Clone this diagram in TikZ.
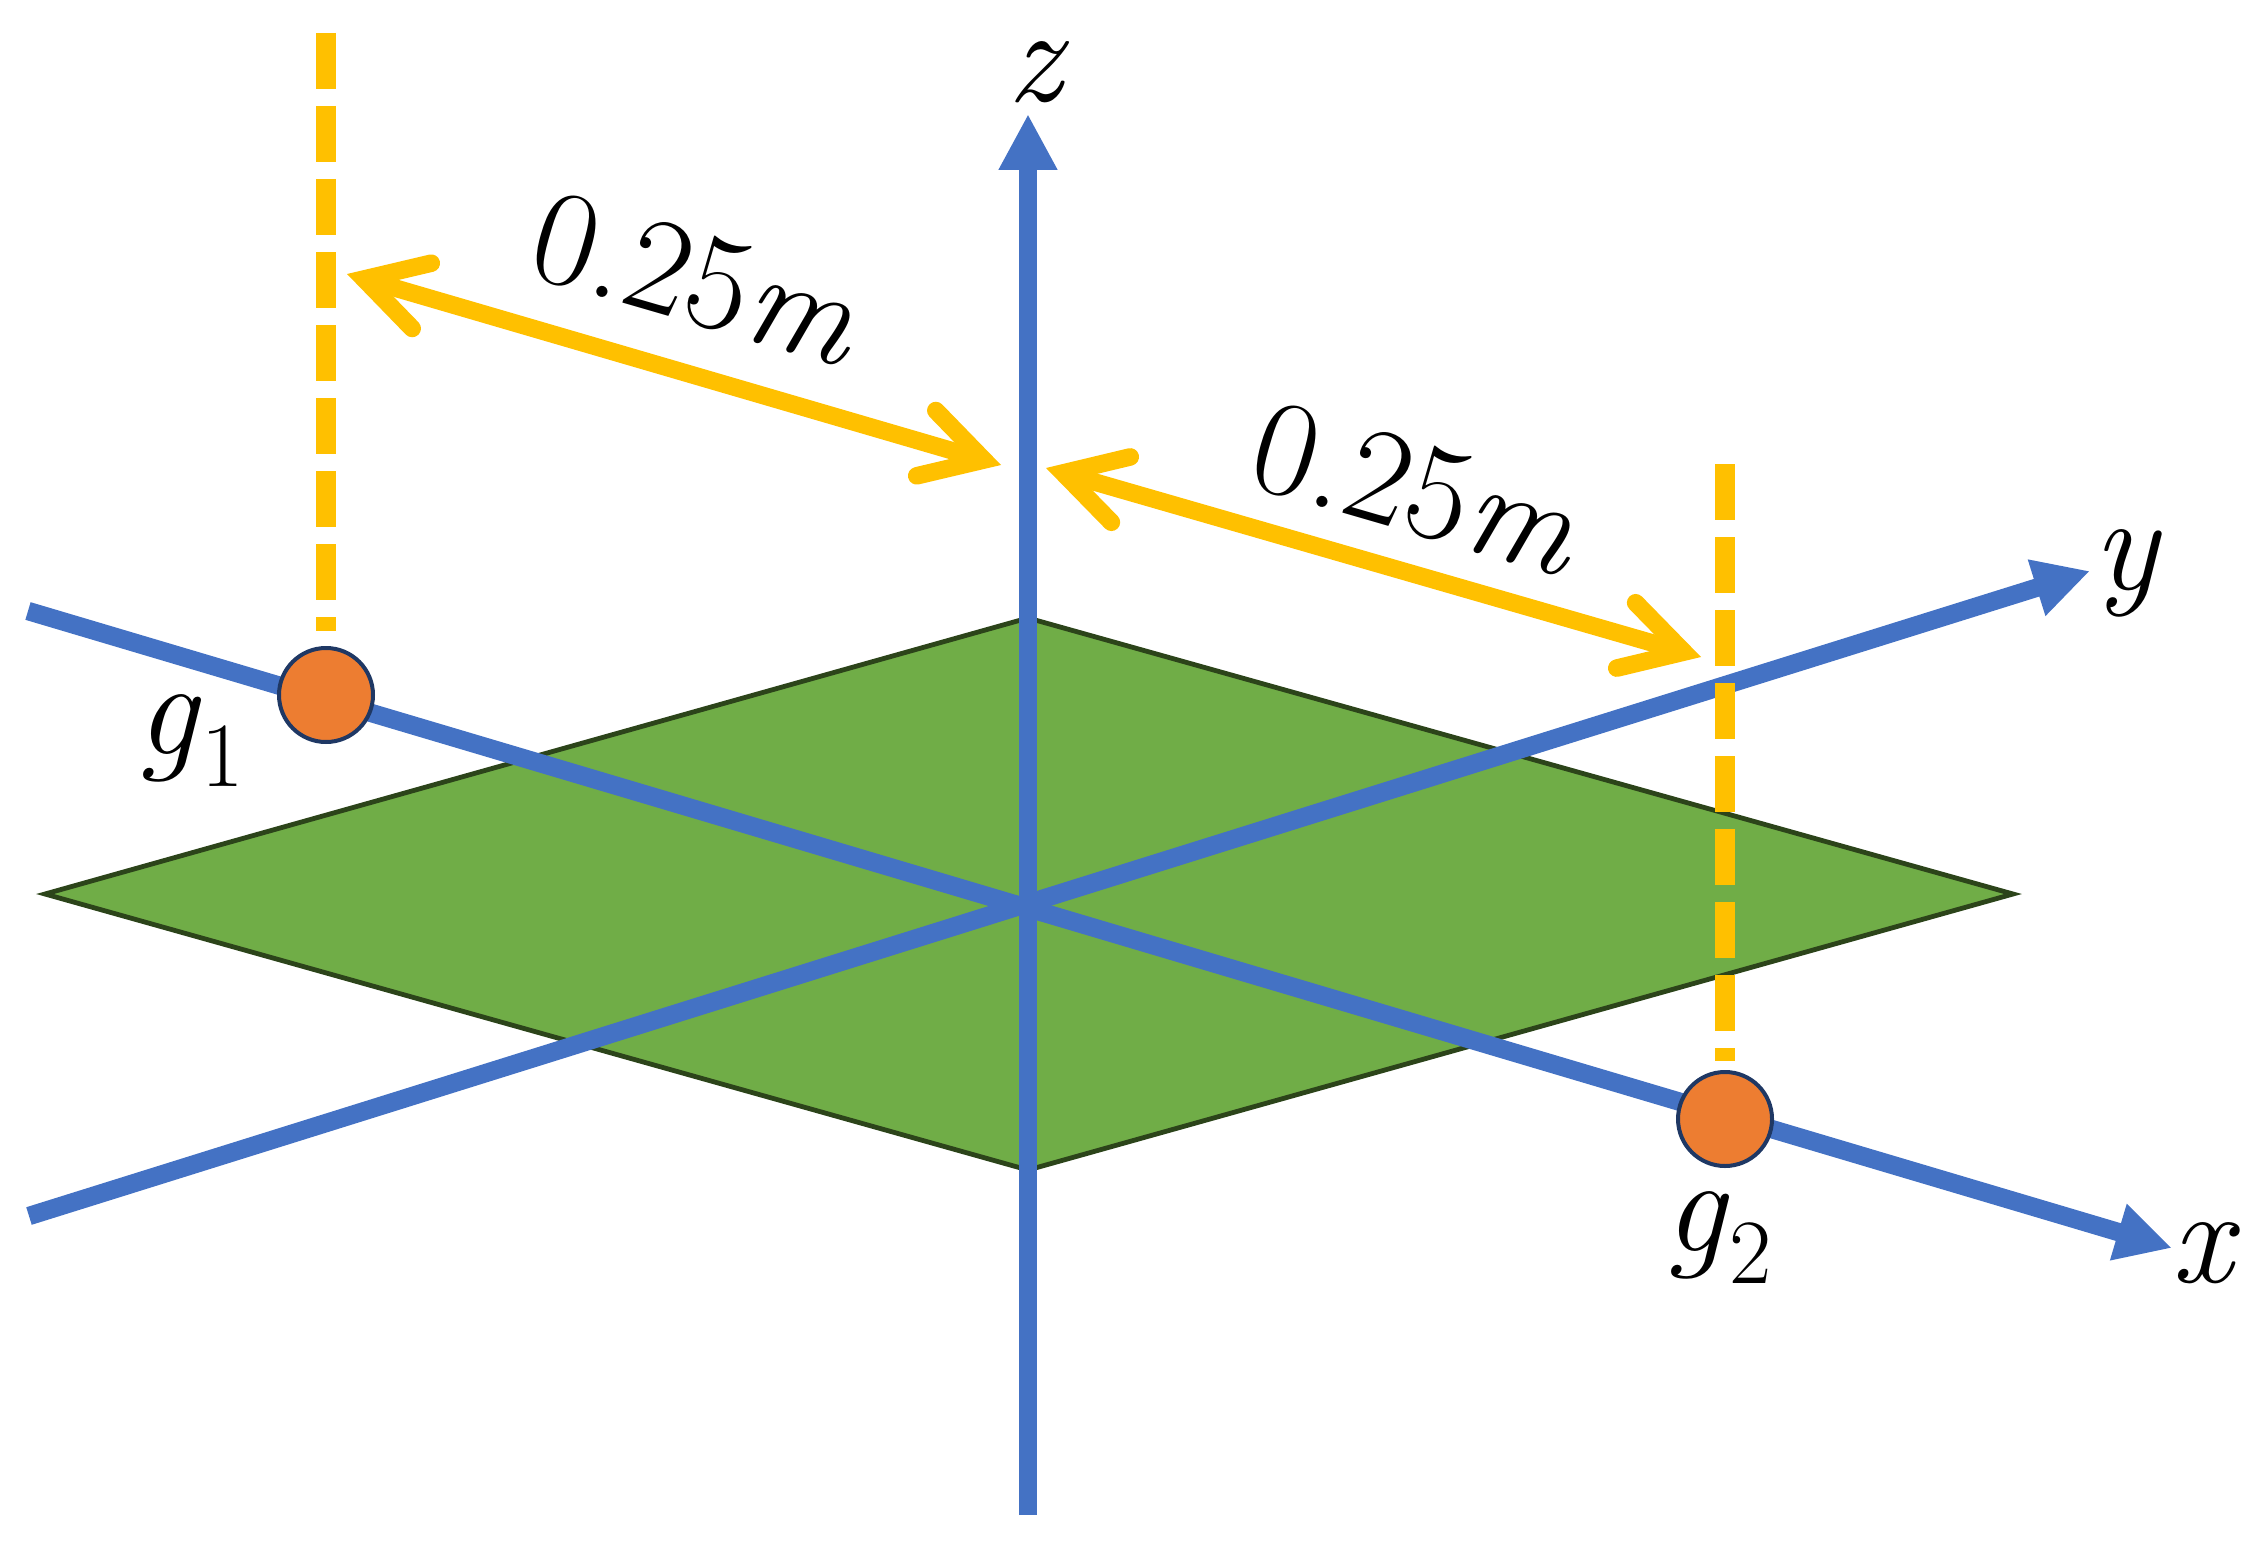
\documentclass[tikz,border=0pt]{standalone}
\usetikzlibrary{arrows.meta}
\definecolor{axblue}{RGB}{68,114,196}
\definecolor{planegreen}{RGB}{112,173,71}
\definecolor{planeedge}{RGB}{44,68,26}
\definecolor{ballorange}{RGB}{237,125,49}
\definecolor{ballnavy}{RGB}{31,56,100}
\definecolor{dimyellow}{RGB}{255,192,0}
\newcommand{\subidx}[1]{\raisebox{-0.24em}{\fontsize{46}{52}\selectfont #1}}
\tikzset{
  axis/.style={draw=axblue, line width=9.2pt, -{Triangle[length=28pt,width=27.5pt]}},
  plane/.style={draw=planeedge, fill=planegreen, line width=2.4pt, line join=miter},
  ball/.style={circle, draw=ballnavy, fill=ballorange, line width=2pt, minimum size=47pt, inner sep=0pt},
  guide/.style={draw=dimyellow, line width=9.75pt, dash pattern=on 28pt off 8.5pt},
  dimarrow/.style={draw=dimyellow, line width=8.8pt, {Straight Barb[length=30pt,width=34pt,line cap=round,line join=miter]}-{Straight Barb[length=30pt,width=34pt,line cap=round,line join=miter]}},
  lbl/.style={font=\fontsize{68}{76}\selectfont, inner sep=0pt}
}
\begin{document}
\begin{tikzpicture}[x=0.5pt,y=-0.5pt]
\useasboundingbox (0,0) rectangle (2262,1546);
% plane
\coordinate (PL) at (45,894);
\coordinate (PT) at (1028,618);
\coordinate (PR) at (2013,894);
\coordinate (PB) at (1028,1170);
\path[plane] (PL) -- (PT) -- (PR) -- (PB) -- cycle;
% axes
\coordinate (xs) at (28,611);
\coordinate (xe) at (2172,1248);
\coordinate (ys) at (29,1216);
\coordinate (ye) at (2090,571);
\coordinate (zs) at (1028,1515);
\coordinate (ze) at (1028,114);
\draw[axis] (xs) -- (xe);
\draw[axis] (ys) -- (ye);
\draw[axis] (zs) -- (ze);
% balls
\node[ball] (g1) at (326,695) {};
\node[ball] (g2) at (1725,1119) {};
% vertical guides
\coordinate (t1) at (326,33);
\coordinate (t2) at (1725,464);
\draw[guide, shorten >=7.5pt] (t1) -- (g1.north);
\draw[guide, shorten >=4.5pt] (t2) -- (g2.north);
% dimension arrows
\coordinate (d1a) at (347,274);
\coordinate (d1b) at (1001,465);
\coordinate (d2a) at (1046,468);
\coordinate (d2b) at (1701,657);
\draw[dimarrow] (d1a) -- (d1b);
\draw[dimarrow] (d2a) -- (d2b);
\node[lbl, rotate=-16.2] (m1) at (697,279) {0.25\textit{m}};
\node[lbl, rotate=-16.2] (m2) at (1417,489) {0.25\textit{m}};
% labels
\node[lbl, anchor=base] (zl) at (1038,102) {\textit{z}};
\node[lbl, anchor=base] (yl) at (2128,589) {\textit{y}};
\node[lbl, anchor=base] (xl) at (2206,1282) {\textit{x}};
\node[lbl, anchor=base] (g1l) at (190,754) {\textit{g}\subidx{1}};
\node[lbl, anchor=base] (g2l) at (1718,1251) {\textit{g}\subidx{2}};
\end{tikzpicture}
\end{document}
